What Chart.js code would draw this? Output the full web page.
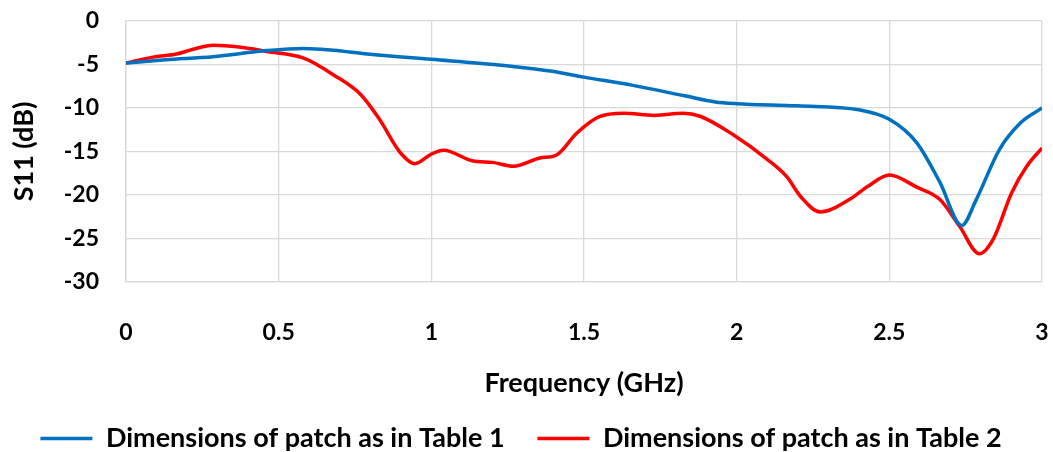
<!DOCTYPE html>
<html>
<head>
<meta charset="utf-8">
<script src="https://cdn.jsdelivr.net/npm/chart.js@4.4.1/dist/chart.umd.min.js"></script>
<style>
  html, body { margin: 0; padding: 0; background: #fff; }
  #wrap { width: 1053px; height: 452px; }
</style>
</head>
<body>
<div id="wrap"><canvas id="s11Chart" width="1053" height="452"></canvas></div>
<script>
// S11 sweeps for the two patch sizes (frequency in GHz, return loss in dB)
const freqTable1 = [0, 0.13, 0.285, 0.46, 0.58, 0.68, 0.79, 1.0, 1.22, 1.39, 1.5, 1.66, 1.83, 1.93, 2.0, 2.2, 2.4, 2.5, 2.59, 2.665, 2.737, 2.785, 2.86, 2.93, 3.0];
const s11Table1 = [-4.83, -4.45, -4.1, -3.4, -3.15, -3.35, -3.8, -4.4, -5.05, -5.75, -6.45, -7.4, -8.6, -9.3, -9.5, -9.75, -10.2, -11.3, -14.0, -18.5, -23.5, -20.5, -14.8, -11.7, -10.0];

const freqTable2 = [0, 0.088, 0.165, 0.22, 0.285, 0.37, 0.46, 0.58, 0.68, 0.77, 0.83, 0.9, 0.946, 1.0, 1.04, 1.137, 1.2, 1.268, 1.356, 1.41, 1.476, 1.55, 1.63, 1.73, 1.825, 1.88, 1.99, 2.1, 2.164, 2.21, 2.273, 2.37, 2.43, 2.5, 2.59, 2.665, 2.73, 2.795, 2.84, 2.9, 2.95, 3.0];
const s11Table2 = [-4.83, -4.15, -3.8, -3.25, -2.8, -3.0, -3.5, -4.25, -6.2, -8.5, -11.3, -15.2, -16.4, -15.3, -14.85, -16.1, -16.25, -16.7, -15.75, -15.4, -12.9, -11.0, -10.6, -10.85, -10.6, -10.95, -13.1, -15.9, -17.9, -20.2, -21.95, -20.5, -19.0, -17.7, -19.1, -20.5, -23.6, -26.75, -25.1, -19.8, -16.7, -14.6];

const seriesNames = ['Dimensions of patch as in Table 1', 'Dimensions of patch as in Table 2'];
const xTicks = [0, 0.5, 1, 1.5, 2, 2.5, 3];
const yTicks = [0, -5, -10, -15, -20, -25, -30];

const toPoints = (xs, ys) => xs.map((x, i) => ({ x: x, y: ys[i] }));

const TICK_FONT = { family: 'Lato', size: 23, weight: 'bold' };
const TITLE_FONT = { family: 'Lato', size: 27, weight: 'bold' };
const LEGEND_FONT = { family: 'Lato', size: 27, weight: 'bold' };
const GRID = '#d9d9d9';

// nudge the legend row down a little (Chart.js keeps a 10px gap under it)
const legendNudge = {
    id: 'legendNudge',
    afterLayout(chart) {
        const lg = chart.legend;
        if (!lg) return;
        lg.top += 10;
        lg.bottom += 10;
    }
};

const ctx = document.getElementById('s11Chart').getContext('2d');

new Chart(ctx, {
    type: 'line',
    data: {
        datasets: [{
            label: seriesNames[0],
            data: toPoints(freqTable1, s11Table1),
            borderColor: '#0070c0',
            backgroundColor: '#0070c0',
            borderWidth: 3.5,
            pointRadius: 0,
            cubicInterpolationMode: 'monotone'
        }, {
            label: seriesNames[1],
            data: toPoints(freqTable2, s11Table2),
            borderColor: '#ff0000',
            backgroundColor: '#ff0000',
            borderWidth: 3.5,
            pointRadius: 0,
            cubicInterpolationMode: 'monotone'
        }]
    },
    plugins: [legendNudge],
    options: {
        responsive: false,
        animation: false,
        layout: { padding: { top: 21, right: 11, left: 0, bottom: 0 } },
        plugins: {
            tooltip: { enabled: false },
            legend: {
                position: 'bottom',
                labels: {
                    color: '#000',
                    font: LEGEND_FONT,
                    usePointStyle: true,
                    pointStyle: 'line',
                    pointStyleWidth: 52,
                    padding: 0,
                    generateLabels: (chart) => {
                        const items = Chart.defaults.plugins.legend.labels.generateLabels(chart);
                        // keep some room between the two entries
                        items[0].text = items[0].text + '     ';
                        return items;
                    }
                }
            }
        },
        scales: {
            x: {
                type: 'linear',
                min: 0,
                max: 3,
                afterBuildTicks: (s) => { s.ticks = xTicks.map(v => ({ value: v })); },
                afterFit: (s) => { s.height = 133; },
                grid: { color: GRID, lineWidth: 1.3, drawTicks: true, tickLength: 34, tickColor: 'rgba(0,0,0,0)' },
                border: { color: GRID, width: 1.3 },
                ticks: { color: '#000', font: TICK_FONT, padding: 3, maxRotation: 0, callback: (v) => String(v) },
                title: { display: true, text: 'Frequency (GHz)', color: '#000', font: TITLE_FONT, padding: { top: 0, bottom: 16 } }
            },
            y: {
                min: -30,
                max: 0,
                afterBuildTicks: (s) => { s.ticks = yTicks.map(v => ({ value: v })); },
                afterFit: (s) => { s.width = 126; },
                grid: { color: GRID, lineWidth: 1.3, drawTicks: true, tickLength: 24, tickColor: 'rgba(0,0,0,0)' },
                border: { color: GRID, width: 1.3 },
                ticks: { color: '#000', font: TICK_FONT, padding: 3 },
                title: { display: true, text: 'S11 (dB)', color: '#000', font: TITLE_FONT, padding: { top: 8, bottom: 0 } }
            }
        }
    }
});
</script>
</body>
</html>
